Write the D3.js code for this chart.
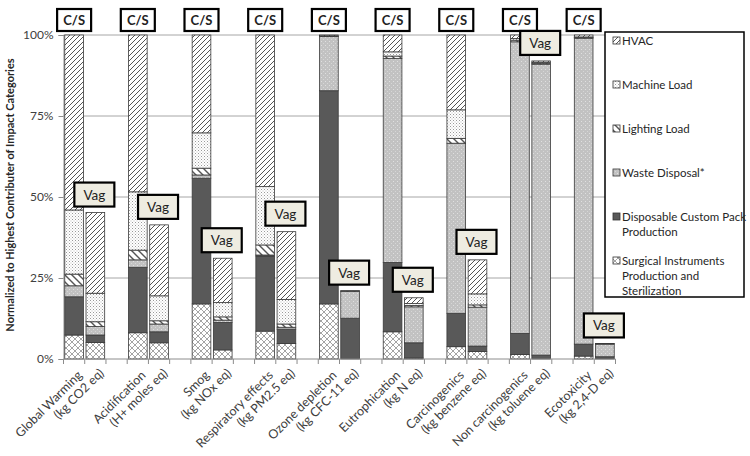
<!DOCTYPE html>
<html>
<head>
<meta charset="utf-8">
<script src="https://cdn.jsdelivr.net/npm/d3@7"></script>
<style>
  body { margin: 0; background: #fff; }
  svg { font-family: Lato, "Open Sans", sans-serif; }
</style>
</head>
<body>
<svg id="chart" width="750" height="456"></svg>
<script>
// categories, two lines each
const categories = [
    ["Global Warming", "(kg CO2 eq)"],
    ["Acidification", "(H+ moles eq)"],
    ["Smog", "(kg NOx eq)"],
    ["Respiratory effects", "(kg PM2.5 eq)"],
    ["Ozone depletion", "(kg CFC-11 eq)"],
    ["Eutrophication", "(kg N eq)"],
    ["Carcinogenics", "(kg benzene eq)"],
    ["Non carcinogenics", "(kg toluene eq)"],
    ["Ecotoxicity", "(kg 2,4-D eq)"]
];
const scenarios = ["C/S", "Vag"];

// series, bottom to top of each stack
const seriesNames = ["Surgical Instruments Production and Sterilization",
    "Disposable Custom Pack Production", "Waste Disposal*",
    "Lighting Load", "Machine Load", "HVAC"];

// C/S values (%)
const surgicalCS   = [7.4, 8.1, 17.0, 8.6, 17.0, 8.4, 3.8, 1.4, 0.9];
const customPackCS = [11.8, 20.2, 38.8, 23.2, 65.8, 21.4, 10.3, 6.5, 3.7];
const wasteCS      = [3.4, 2.3, 1.0, 0.3, 16.7, 63.0, 52.5, 90.0, 94.4];
const lightingCS   = [3.6, 3.0, 2.1, 3.1, 0.1, 0.7, 1.5, 0.5, 0.2];
const machineCS    = [19.8, 18.0, 10.9, 18.0, 0.1, 1.3, 8.8, 0.5, 0.2];
const hvacCS       = [54.0, 48.4, 30.2, 46.8, 0.3, 5.2, 23.1, 1.1, 0.6];

// Vag values (%)
const surgicalVag   = [5.1, 5.0, 2.8, 4.8, 0.0, 0.3, 2.3, 0.0, 0.2];
const customPackVag = [2.3, 3.4, 8.5, 4.4, 12.6, 4.7, 1.7, 1.2, 0.5];
const wasteVag      = [2.6, 2.4, 0.7, 0.6, 8.3, 11.1, 12.0, 89.8, 3.9];
const lightingVag   = [1.5, 1.0, 1.0, 1.0, 0.1, 0.4, 0.7, 0.3, 0.1];
const machineVag    = [8.8, 7.7, 4.4, 7.6, 0.1, 0.6, 3.4, 0.3, 0.0];
const hvacVag       = [24.9, 21.9, 13.7, 20.9, 0.0, 1.8, 10.5, 0.4, 0.1];

const yTicks = [0, 25, 50, 75, 100];

const svg = d3.select("#chart");
const defs = svg.append("defs");

// fill patterns
function addPattern(id, w, h, bg, draw) {
    const p = defs.append("pattern").attr("id", id)
        .attr("patternUnits", "userSpaceOnUse")
        .attr("width", w).attr("height", h);
    p.append("rect").attr("width", w).attr("height", h).attr("fill", bg);
    draw(p);
}
addPattern("pCross", 6, 6, "#fff", p => {
    p.append("path").attr("d", "M0,0L6,6M6,0L0,6")
        .attr("stroke", "#9a9a9a").attr("stroke-width", 0.9);
});
addPattern("pWaste", 4, 4, "#c2c2c2", p => {
    p.append("rect").attr("x", 1).attr("y", 1).attr("width", 1).attr("height", 1).attr("fill", "#e0e0e0");
    p.append("rect").attr("x", 3).attr("y", 3).attr("width", 1).attr("height", 1).attr("fill", "#d6d6d6");
});
addPattern("pLight", 7, 7, "#fff", p => {
    p.append("path").attr("d", "M-1,-1L8,8M-1,6L1,8M6,-1L8,1")
        .attr("stroke", "#555").attr("stroke-width", 1.4);
});
addPattern("pMachine", 3, 3, "#fff", p => {
    p.append("rect").attr("x", 0).attr("y", 0).attr("width", 1).attr("height", 1).attr("fill", "#9a9a9a");
    p.append("rect").attr("x", 1.5).attr("y", 1.5).attr("width", 1).attr("height", 1).attr("fill", "#bdbdbd");
});
addPattern("pHvac", 5, 5, "#fff", p => {
    p.append("path").attr("d", "M0,5L5,0M-1,1L1,-1M4,6L6,4")
        .attr("stroke", "#555").attr("stroke-width", 1);
});
const fills = ["url(#pCross)", "#595959", "url(#pWaste)", "url(#pLight)", "url(#pMachine)", "url(#pHvac)"];

// rows for stacking
const csCols = [surgicalCS, customPackCS, wasteCS, lightingCS, machineCS, hvacCS];
const vagCols = [surgicalVag, customPackVag, wasteVag, lightingVag, machineVag, hvacVag];
const rows = [];
categories.forEach((c, i) => {
    scenarios.forEach((s) => {
        const cols = s === "C/S" ? csCols : vagCols;
        const row = { key: i + "-" + s, cat: i, scen: s };
        seriesNames.forEach((name, j) => { row[name] = cols[j][i]; });
        rows.push(row);
    });
});

// category slots: C/S, Vag, gap ... (no gap after last)
const slots = [];
categories.forEach((c, i) => {
    slots.push(i + "-C/S", i + "-Vag");
    if (i < categories.length - 1) slots.push(i + "-gap");
});

const plotLeft = 63.5, plotRight = 615.5, plotTop = 35, plotBottom = 359;
const x = d3.scaleBand().domain(slots).range([plotLeft, plotRight])
    .paddingInner(0.12).paddingOuter(0.06);
const step = x.step();
const y = d3.scaleLinear().domain([0, 100]).range([plotBottom, plotTop]);

// gridlines
svg.append("g").selectAll("line").data(yTicks.filter(d => d > 0)).enter()
    .append("line")
    .attr("x1", plotLeft).attr("x2", plotRight)
    .attr("y1", d => y(d)).attr("y2", d => y(d))
    .attr("stroke", "#a6a6a6").attr("stroke-width", 1);

// y axis
const yAxis = svg.append("g").attr("transform", "translate(" + plotLeft + ",0)")
    .call(d3.axisLeft(y).tickValues(yTicks).tickSize(5).tickPadding(5).tickFormat(d => d + "%"));
yAxis.selectAll("path, line").attr("stroke", "#8c8c8c");
yAxis.selectAll("text").attr("font-size", 12).attr("fill", "#404040")
    .attr("font-family", "Lato, sans-serif");

// stacked bars
const stack = d3.stack().keys(seriesNames);
const layers = stack(rows);
svg.append("g").selectAll("g").data(layers).enter()
    .append("g")
    .attr("fill", (d, i) => fills[i])
    .selectAll("rect").data(d => d).enter()
    .append("rect")
    .attr("x", d => x(d.data.key))
    .attr("width", x.bandwidth())
    .attr("y", d => y(d[1]))
    .attr("height", d => Math.max(0, y(d[0]) - y(d[1])))
    .attr("stroke", "#3a3a3a").attr("stroke-width", 0.8);

// x axis line and ticks at slot boundaries
const xg = svg.append("g");
xg.append("line").attr("x1", plotLeft).attr("x2", plotRight)
    .attr("y1", plotBottom).attr("y2", plotBottom)
    .attr("stroke", "#8c8c8c");
d3.range(slots.length + 1).forEach(k => {
    const bx = plotLeft + k * step;
    xg.append("line").attr("x1", bx).attr("x2", bx)
        .attr("y1", plotBottom).attr("y2", plotBottom + 5)
        .attr("stroke", "#8c8c8c");
});

// category labels
const labels = svg.append("g").attr("font-size", 12.5).attr("fill", "#404040");
categories.forEach((c, i) => {
    const gx = x(i + "-Vag") - step * 0.06;
    const g = labels.append("g")
        .attr("transform", "translate(" + (gx - 2) + "," + (plotBottom + 17) + ") rotate(-45)");
    g.append("text").attr("text-anchor", "end").attr("x", 0).attr("y", 0).text(c[0]);
    g.append("text").attr("text-anchor", "end").attr("x", 17).attr("y", 14).text(c[1]);
});

// C/S boxes
const csRows = rows.filter(r => r.scen === "C/S");
const csBox = svg.append("g").selectAll("g").data(csRows).enter().append("g")
    .attr("transform", d => "translate(" + (x(d.key) + x.bandwidth() / 2) + ",9)");
csBox.append("rect").attr("x", -17).attr("y", 0).attr("width", 34).attr("height", 22)
    .attr("fill", "#fff").attr("stroke", "#000").attr("stroke-width", 2.2);
csBox.append("text").attr("x", 0).attr("y", 16).attr("text-anchor", "middle")
    .attr("font-size", 13).attr("font-weight", "bold").attr("fill", "#222").text("C/S");

// Vag boxes above each Vag bar
const vagRows = rows.filter(r => r.scen === "Vag");
const totals = vagRows.map(r => d3.sum(seriesNames, n => r[n]));
const vagBox = svg.append("g").selectAll("g").data(vagRows).enter().append("g")
    .attr("transform", (d, i) => "translate(" + (x(d.key) + x.bandwidth() / 2 - 1) + "," + (y(totals[i]) - 6) + ")");
vagBox.append("rect").attr("x", -20).attr("y", -24).attr("width", 40).attr("height", 24)
    .attr("fill", "#eeece1").attr("stroke", "#000").attr("stroke-width", 2.2);
vagBox.append("text").attr("x", 0).attr("y", -7).attr("text-anchor", "middle")
    .attr("font-size", 13.5).attr("fill", "#222").text("Vag");

// y axis title
svg.append("text")
    .attr("transform", "translate(14,195) rotate(-90)")
    .attr("text-anchor", "middle")
    .attr("font-size", 11).attr("font-weight", "bold").attr("fill", "#262626")
    .text("Normalized to Highest Contributer of Impact Categories");

// legend
const legendItems = [
    { name: "HVAC", fill: fills[5], lines: ["HVAC"] },
    { name: "Machine Load", fill: fills[4], lines: ["Machine Load"] },
    { name: "Lighting Load", fill: fills[3], lines: ["Lighting Load"] },
    { name: "Waste Disposal*", fill: fills[2], lines: ["Waste Disposal*"] },
    { name: "Disposable Custom Pack Production", fill: fills[1], lines: ["Disposable Custom Pack", "Production"] },
    { name: "Surgical Instruments Production and Sterilization", fill: fills[0], lines: ["Surgical Instruments", "Production and", "Sterilization"] }
];
const legend = svg.append("g");
legend.append("rect").attr("x", 605).attr("y", 32).attr("width", 139).attr("height", 265)
    .attr("fill", "#fff").attr("stroke", "#000").attr("stroke-width", 1.5);
legendItems.forEach((it, i) => {
    const ly = 41 + i * 44;
    legend.append("rect").attr("x", 613).attr("y", ly - 4).attr("width", 7).attr("height", 7)
        .attr("fill", it.fill).attr("stroke", "#333").attr("stroke-width", 0.8);
    it.lines.forEach((t, k) => {
        legend.append("text").attr("x", 622).attr("y", ly + 4 + k * 15)
            .attr("font-size", 11.5).attr("fill", "#262626").text(t);
    });
});
</script>
</body>
</html>
